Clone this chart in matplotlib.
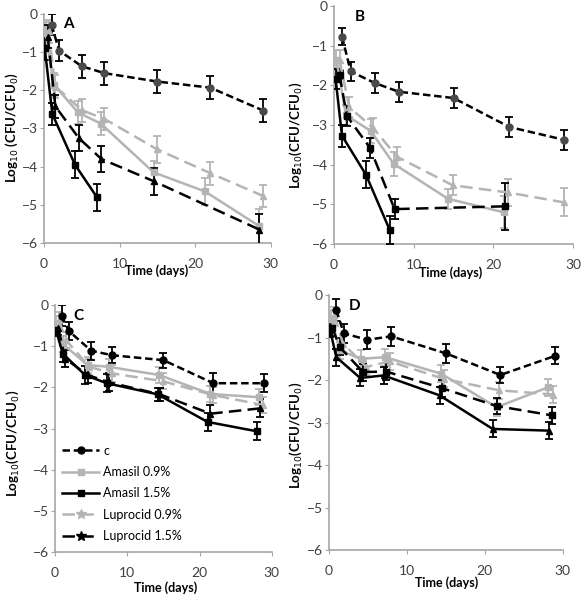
import matplotlib
matplotlib.use("Agg")
import matplotlib.pyplot as plt
from matplotlib.lines import Line2D

plt.rcParams['font.family'] = ['Lato', 'DejaVu Sans']

# ---- data (log10 CFU/CFU0 vs time in days) ----
# panel A
a_c_t = [1, 2, 5, 8, 15, 22, 29]
a_c_y = [-0.28, -0.96, -1.37, -1.55, -1.77, -1.93, -2.53]
a_c_e = [0.28, 0.28, 0.3, 0.3, 0.3, 0.3, 0.3]
a_am09_t = [0.2, 1.3, 4.5, 7.5, 14.5, 21.3, 28.4]
a_am09_y = [-0.5, -1.85, -2.58, -2.87, -4.15, -4.65, -5.55]
a_am09_e = [0.3, 0.3, 0.3, 0.3, 0.3, 0.35, 0.45]
a_am15_t = [0.1, 1.1, 4.1, 7.0]
a_am15_y = [-0.9, -2.62, -3.95, -4.8]
a_am15_e = [0.3, 0.3, 0.35, 0.35]
a_lu09_t = [0.6, 1.5, 5, 8, 15, 22, 29]
a_lu09_y = [-0.45, -1.9, -2.52, -2.75, -3.55, -4.17, -4.77]
a_lu09_e = [0.3, 0.3, 0.3, 0.3, 0.35, 0.3, 0.3]
a_lu15_t = [0.5, 1.5, 4.6, 7.6, 14.5, 28.5]
a_lu15_y = [-0.6, -2.42, -3.25, -3.8, -4.38, -5.65]
a_lu15_e = [0.3, 0.3, 0.35, 0.35, 0.35, 0.4]

# panel B
b_c_t = [1, 2.1, 5.1, 8.1, 15, 22, 28.8]
b_c_y = [-0.77, -1.65, -1.94, -2.16, -2.32, -3.05, -3.37]
b_c_e = [0.22, 0.25, 0.25, 0.25, 0.25, 0.25, 0.25]
b_am09_t = [0.3, 1.5, 4.6, 7.5, 14.3, 21.3]
b_am09_y = [-1.36, -2.75, -3.15, -3.98, -4.86, -5.2]
b_am09_e = [0.25, 0.25, 0.3, 0.3, 0.25, 0.4]
b_am15_t = [0.2, 1.0, 4.0, 7.0]
b_am15_y = [-1.84, -3.27, -4.25, -5.65]
b_am15_e = [0.25, 0.28, 0.35, 0.35]
b_lu09_t = [0.7, 1.9, 4.9, 7.9, 14.9, 21.8, 28.8]
b_lu09_y = [-1.36, -2.55, -3.07, -3.8, -4.52, -4.7, -4.95]
b_lu09_e = [0.25, 0.25, 0.25, 0.25, 0.25, 0.35, 0.35]
b_lu15_t = [0.7, 1.6, 4.5, 7.6, 21.5]
b_lu15_y = [-1.73, -2.77, -3.57, -5.12, -5.05]
b_lu15_e = [0.1, 0.25, 0.25, 0.25, 0.6]

# panel C
c_c_t = [0.9, 1.9, 5.0, 7.9, 15, 21.9, 28.9]
c_c_y = [-0.26, -0.63, -1.11, -1.22, -1.34, -1.9, -1.9]
c_c_e = [0.25, 0.22, 0.22, 0.2, 0.18, 0.25, 0.22]
c_am09_t = [0.2, 1.1, 4.5, 7.4, 14.4, 21.5, 28.2]
c_am09_y = [-0.47, -0.95, -1.46, -1.5, -1.7, -2.16, -2.24]
c_am09_e = [0.2, 0.2, 0.2, 0.2, 0.2, 0.2, 0.2]
c_am15_t = [0.14, 1.06, 4.15, 7.15, 14.2, 21.1, 28.0]
c_am15_y = [-0.61, -1.18, -1.7, -1.9, -2.17, -2.84, -3.07]
c_am15_e = [0.15, 0.2, 0.22, 0.22, 0.15, 0.22, 0.22]
c_lu09_t = [0.55, 1.5, 4.75, 7.85, 14.9, 21.9, 28.8]
c_lu09_y = [-0.37, -0.85, -1.5, -1.66, -1.85, -2.19, -2.43]
c_lu09_e = [0.2, 0.2, 0.2, 0.2, 0.2, 0.2, 0.2]
c_lu15_t = [0.46, 1.4, 4.5, 7.5, 14.5, 21.5, 28.4]
c_lu15_y = [-0.57, -1.3, -1.7, -1.88, -2.17, -2.64, -2.51]
c_lu15_e = [0.15, 0.2, 0.2, 0.22, 0.15, 0.22, 0.22]

# panel D
d_c_t = [0.94, 1.9, 4.9, 8.0, 15, 22, 29]
d_c_y = [-0.35, -0.9, -1.05, -0.97, -1.37, -1.88, -1.43]
d_c_e = [0.25, 0.22, 0.22, 0.22, 0.22, 0.18, 0.2]
d_am09_t = [0.3, 1.4, 4.1, 7.2, 14.4, 21.5, 28.1]
d_am09_y = [-0.55, -1.3, -1.5, -1.46, -1.85, -2.64, -2.17]
d_am09_e = [0.2, 0.2, 0.2, 0.2, 0.2, 0.2, 0.2]
d_am15_t = [0.1, 0.94, 4.0, 7.0, 14.2, 21.0, 28.2]
d_am15_y = [-0.79, -1.46, -1.95, -1.89, -2.36, -3.15, -3.19]
d_am15_e = [0.2, 0.2, 0.2, 0.2, 0.2, 0.2, 0.2]
d_lu09_t = [0.7, 1.8, 4.8, 7.8, 14.7, 21.8, 28.8]
d_lu09_y = [-0.47, -1.14, -1.69, -1.56, -1.97, -2.24, -2.34]
d_lu09_e = [0.2, 0.2, 0.2, 0.2, 0.2, 0.2, 0.2]
d_lu15_t = [0.43, 1.37, 4.36, 7.35, 14.5, 21.5, 28.6]
d_lu15_y = [-0.77, -1.22, -1.81, -1.8, -2.19, -2.61, -2.83]
d_lu15_e = [0.2, 0.2, 0.2, 0.2, 0.2, 0.2, 0.2]

labels = ["c", "Amasil 0.9%", "Amasil 1.5%", "Luprocid 0.9%", "Luprocid 1.5%"]

LG = "#b4b4b4"
DG = "#4a4a4a"
ylab = r"Log$_{10}$(CFU/CFU$_0$)"


def series(ax, t, y, e, color, ls, marker, mcolor=None, ecolor="black", lw=1.8):
    ax.errorbar(t, y, yerr=e, color=color, ls=ls, lw=lw, marker=marker,
                ms=5 if marker != "*" else 7, mfc=mcolor or color, mec=mcolor or color,
                ecolor=ecolor, elinewidth=1.3, capsize=3, capthick=1.3, zorder=3)


def style(ax, letter):
    ax.set_xlim(0, 30)
    ax.set_ylim(-6, 0)
    ax.set_xticks([0, 10, 20, 30])
    ax.set_yticks([0, -1, -2, -3, -4, -5, -6])
    for s in ["top", "right"]:
        ax.spines[s].set_visible(False)
    for s in ["left", "bottom"]:
        ax.spines[s].set_color("#a6a6a6")
        ax.spines[s].set_linewidth(1.2)
    ax.tick_params(axis="both", colors="#a6a6a6", labelcolor="#404040",
                   labelsize=10, length=3, direction="out")
    ax.tick_params(axis="x", pad=8)
    ax.tick_params(axis="y", pad=1.5)
    ax.text(0.085, 0.985, letter, transform=ax.transAxes, fontsize=11,
            fontweight="bold", va="top", ha="left", color="black")


fig = plt.figure(figsize=(5.86, 6.01), dpi=100)

dash_short = (0, (3, 1.5))
dash_long = (0, (5, 2.5))

# --- A ---
axA = fig.add_axes([0.0751, 0.5957, 0.387, 0.381])
series(axA, a_am09_t, a_am09_y, a_am09_e, LG, "-", "s", ecolor=LG)
series(axA, a_lu09_t, a_lu09_y, a_lu09_e, LG, dash_long, "^", ecolor=LG)
series(axA, a_am15_t, a_am15_y, a_am15_e, "black", "-", "s")
series(axA, a_lu15_t, a_lu15_y, a_lu15_e, "black", dash_long, "^")
series(axA, a_c_t, a_c_y, a_c_e, "black", dash_short, "o", mcolor=DG)
style(axA, "A")
fig.text(12 / 586, 1 - 128 / 601, r"Log$_{10}$ (CFU/CFU$_0$)", rotation=90,
         ha="center", va="center", fontsize=9.5, fontweight="bold")
fig.text(157 / 586, 1 - 271 / 601, "Time (days)", ha="center", va="center",
         fontsize=9, fontweight="bold")

# --- B ---
axB = fig.add_axes([0.570, 0.594, 0.408, 0.396])
series(axB, b_am09_t, b_am09_y, b_am09_e, LG, "-", "s", ecolor=LG)
series(axB, b_lu09_t, b_lu09_y, b_lu09_e, LG, dash_long, "^", ecolor=LG)
series(axB, b_am15_t, b_am15_y, b_am15_e, "black", "-", "s")
series(axB, b_lu15_t, b_lu15_y, b_lu15_e, "black", dash_long, "s")
series(axB, b_c_t, b_c_y, b_c_e, "black", dash_short, "o", mcolor=DG)
style(axB, "B")
fig.text(296 / 586, 1 - 135 / 601, ylab, rotation=90,
         ha="center", va="center", fontsize=9.5, fontweight="bold")
fig.text(451 / 586, 1 - 273 / 601, "Time (days)", ha="center", va="center",
         fontsize=9, fontweight="bold")

# --- C ---
axC = fig.add_axes([0.0939, 0.0815, 0.370, 0.411])
series(axC, c_am09_t, c_am09_y, c_am09_e, LG, "-", "s", ecolor=LG)
series(axC, c_lu09_t, c_lu09_y, c_lu09_e, LG, dash_long, "^", ecolor=LG)
series(axC, c_am15_t, c_am15_y, c_am15_e, "black", "-", "s")
series(axC, c_lu15_t, c_lu15_y, c_lu15_e, "black", dash_long, "^")
series(axC, c_c_t, c_c_y, c_c_e, "black", dash_short, "o")
style(axC, "C")
fig.text(13 / 586, 1 - 443 / 601, ylab, rotation=90,
         ha="center", va="center", fontsize=9.5, fontweight="bold")
fig.text(166 / 586, 1 - 588 / 601, "Time (days)", ha="center", va="center",
         fontsize=9, fontweight="bold")

handles = [
    Line2D([], [], color="black", ls=dash_short, lw=1.8, marker="o", ms=5),
    Line2D([], [], color=LG, ls="-", lw=1.8, marker="s", ms=5),
    Line2D([], [], color="black", ls="-", lw=1.8, marker="s", ms=5),
    Line2D([], [], color=LG, ls=dash_long, lw=1.8, marker="*", ms=7),
    Line2D([], [], color="black", ls=dash_long, lw=1.8, marker="*", ms=7),
]
axC.legend(handles, labels, loc="upper left", bbox_to_anchor=(0.02, 0.445),
           frameon=False, fontsize=9, handlelength=3.0, handletextpad=0.3,
           labelspacing=0.75, borderaxespad=0.0, borderpad=0.2)

# --- D ---
axD = fig.add_axes([0.5614, 0.0849, 0.399, 0.424])
series(axD, d_am09_t, d_am09_y, d_am09_e, LG, "-", "s", ecolor=LG)
series(axD, d_lu09_t, d_lu09_y, d_lu09_e, LG, dash_long, "^", ecolor=LG)
series(axD, d_am15_t, d_am15_y, d_am15_e, "black", "-", "^")
series(axD, d_lu15_t, d_lu15_y, d_lu15_e, "black", dash_long, "s")
series(axD, d_c_t, d_c_y, d_c_e, "black", dash_short, "o")
style(axD, "D")
fig.text(296 / 586, 1 - 435 / 601, ylab, rotation=90,
         ha="center", va="center", fontsize=9.5, fontweight="bold")
fig.text(447 / 586, 1 - 583 / 601, "Time (days)", ha="center", va="center",
         fontsize=9, fontweight="bold")

fig.savefig("out.png", dpi=100)
